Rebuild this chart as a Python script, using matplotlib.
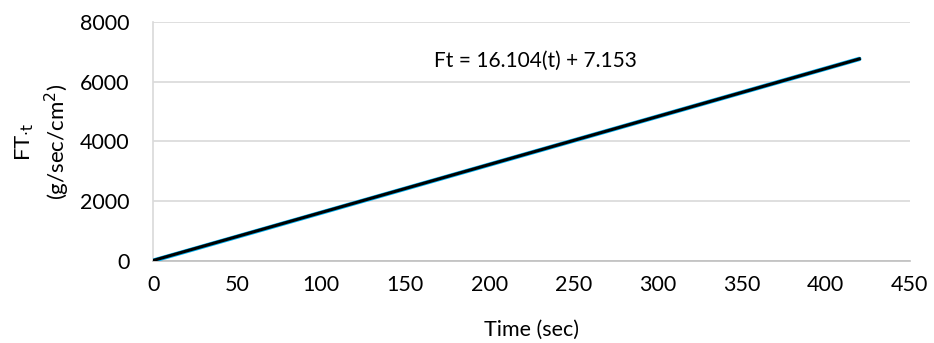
import matplotlib.pyplot as plt
import numpy as np

# values
time_sec = [0, 420]
ft_vals = [0, 6770]
slope = 16.104
intercept = 7.153
x_ticks = [0, 50, 100, 150, 200, 250, 300, 350, 400, 450]
y_ticks = [0, 2000, 4000, 6000, 8000]

plt.rcParams['font.family'] = ['Lato', 'DejaVu Sans']

fig, ax = plt.subplots(figsize=(9.34, 3.43), dpi=100)
fig.subplots_adjust(left=0.164, right=0.974, top=0.935, bottom=0.24)

# data series (light blue) with black linear trend line over it
ax.plot(time_sec, ft_vals, color="#00B0F0", lw=3.2, solid_capstyle="round", zorder=3)
trend_x = np.array(time_sec)
ax.plot(trend_x, slope * trend_x + intercept, color="black", lw=2.2, zorder=4)

ax.text(0.505, 0.84, f"Ft = {slope}(t) + {intercept}", transform=ax.transAxes,
        ha="center", va="center", fontsize=15)

ax.set_xlim(0, 450)
ax.set_ylim(0, 8000)
ax.set_xticks(x_ticks)
ax.set_yticks(y_ticks)
ax.grid(axis="y", color="#d9d9d9", lw=1.2)
ax.set_axisbelow(True)
for s in ["top", "right"]:
    ax.spines[s].set_visible(False)
ax.spines["left"].set_color("#d9d9d9")
ax.spines["bottom"].set_color("#bfbfbf")
ax.spines["left"].set_linewidth(1.2)
ax.spines["bottom"].set_linewidth(1.2)
ax.tick_params(axis="both", length=0, labelsize=15.5)
ax.tick_params(axis="y", pad=17)
ax.tick_params(axis="x", pad=10)

ax.set_xlabel("Time (sec)", fontsize=15.5, labelpad=18)
ax.set_ylabel("FT$_{\\cdot\\mathrm{t}}$\n(g/sec/cm$^2$)", fontsize=16, labelpad=6,
              linespacing=1.3)

plt.savefig("out.png", dpi=100)
